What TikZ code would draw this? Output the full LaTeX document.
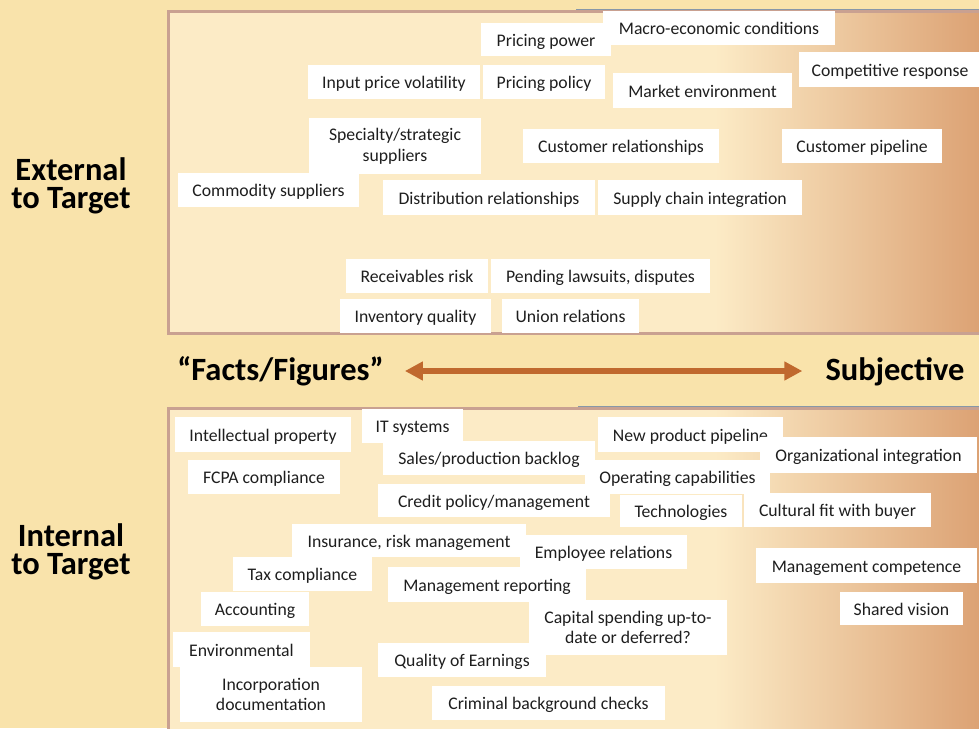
\documentclass[tikz,border=0pt]{standalone}
\usepackage{fontspec}
\setmainfont{Carlito}
\usetikzlibrary{arrows.meta}

\definecolor{pagebg}{HTML}{F9E3AB}
\definecolor{panelfill}{HTML}{FCEBC6}
\definecolor{paneldark}{HTML}{DCA274}
\definecolor{panelrim}{HTML}{C9A191}
\definecolor{rimblue}{HTML}{8797A8}
\definecolor{arrowcol}{HTML}{C0692E}
\definecolor{ink}{HTML}{1E1E1E}

\tikzset{
  tb/.style={fill=white, inner sep=0pt, text=ink,
    font=\fontsize{17.7}{20.5}\selectfont, text height=13pt, text depth=0pt},
  tbtwo/.style={fill=white, inner sep=0pt, text=ink,
    font=\fontsize{17.7}{20.8}\selectfont, align=center},
  heading/.style={font=\bfseries\fontsize{32.5}{28.5}\selectfont,
    align=center, text=black, inner sep=0pt},
  scalelabel/.style={font=\bfseries\fontsize{32.5}{34}\selectfont,
    text=black, inner sep=0pt, text height=24pt, text depth=6pt},
  scalearrow/.style={draw=arrowcol, line width=5.5pt,
    {Triangle[length=18pt,width=18pt]}-{Triangle[length=18pt,width=18pt]}},
}

% white label box given by its corners (x1,y1) (x2,y2), y measured downwards
\newcommand{\tbox}[6]{%
  \node[tb, minimum width={#4-#2}, minimum height={#5-#3}]
    (#1) at ({(#2+#4)/2},{(#3+#5)/2}) {#6};}
\newcommand{\tboxtwo}[6]{%
  \node[tbtwo, minimum width={#4-#2}, minimum height={#5-#3}]
    (#1) at ({(#2+#4)/2},{(#3+#5)/2}) {#6};}

\begin{document}
\begin{tikzpicture}[x=1pt, y=-1pt]
  \useasboundingbox (0,0) rectangle (979,728);
  \fill[pagebg] (0,0) rectangle (979,728);

  % upper panel: external factors
  \fill[panelfill] (168.5,11.5) rectangle (990,333);
  \shade[left color=panelfill, right color=paneldark] (715,11.5) rectangle (979,333);
  \draw[panelrim, line width=3pt] (990,11.5) -- (168.5,11.5) -- (168.5,333) -- (990,333);
  \draw[rimblue, line width=0.9pt] (576,9.3) -- (990,9.3);

  % lower panel: internal factors
  \fill[panelfill] (168.5,408) rectangle (990,740);
  \shade[left color=panelfill, right color=paneldark] (715,408) rectangle (979,740);
  \draw[panelrim, line width=3pt] (990,408) -- (168.5,408) -- (168.5,740);
  \draw[rimblue, line width=0.9pt] (578,406) -- (990,406);

  % row headings
  \node[heading] (ext) at (71,186) {External\\to Target};
  \node[heading] (int) at (71,552) {Internal\\to Target};

  % scale between the panels
  \node[scalelabel, anchor=base] (facts) at (280.5,380) {“Facts/Figures”};
  \node[scalelabel, anchor=base] (subj) at (895,380) {Subjective};
  \draw[scalearrow, shorten <=21pt, shorten >=23pt] (facts.east) -- (subj.west);

  % external factors
  \tbox{pricepow}{481}{23}{611}{56}{Pricing power}
  \tbox{macro}{603}{11}{835}{45}{Macro-economic conditions}
  \tbox{inputvol}{308}{65}{480}{99}{Input price volatility}
  \tbox{pricepol}{483}{65}{605}{99}{Pricing policy}
  \tbox{market}{613}{73}{792}{108}{Market environment}
  \tbox{compresp}{799}{52}{981}{87}{Competitive response}
  \tboxtwo{specialty}{309}{118}{481}{174}{Specialty/strategic\\suppliers}
  \tbox{custrel}{523}{129}{719}{163}{Customer relationships}
  \tbox{custpipe}{782}{129}{942}{163}{Customer pipeline}
  \tbox{commodity}{178}{173}{359}{207}{Commodity suppliers}
  \tbox{distrib}{383}{180}{595}{215}{Distribution relationships}
  \tbox{supply}{598}{180}{802}{215}{Supply chain integration}
  \tbox{receiv}{346}{259}{488}{293}{Receivables risk}
  \tbox{lawsuits}{491}{259}{710}{293}{Pending lawsuits, disputes}
  \tbox{inventory}{340}{299}{491}{333}{Inventory quality}
  \tbox{union}{502}{299}{639}{333}{Union relations}

  % internal factors
  \tbox{intprop}{175}{417}{351}{452}{Intellectual property}
  \tbox{itsys}{362}{409}{463}{443}{IT systems}
  \tbox{backlog}{383}{441}{595}{475}{Sales/production backlog}
  \tbox{newprod}{598}{417}{783}{452}{New product pipeline}
  \tbox{orgint}{760}{437}{977}{473}{Organizational integration}
  \tbox{fcpa}{188}{460}{340}{494}{FCPA compliance}
  \tbox{opcap}{585}{460}{770}{494}{Operating capabilities}
  \tbox{credit}{378}{484}{610}{517}{Credit policy/management}
  \tbox{tech}{620}{495}{742}{527}{Technologies}
  \tbox{cultural}{744}{493}{931}{527}{Cultural fit with buyer}
  \tbox{insur}{292}{524}{526}{557}{Insurance, risk management}
  \tbox{employee}{520}{535}{687}{569}{Employee relations}
  \tbox{tax}{233}{557}{372}{591}{Tax compliance}
  \tbox{mgmtrep}{388}{567}{586}{602}{Management reporting}
  \tbox{mgmtcomp}{756}{548}{977}{583}{Management competence}
  \tbox{accounting}{201}{592}{309}{626}{Accounting}
  \tbox{shared}{840}{592}{963}{625}{Shared vision}
  \tboxtwo{capex}{529}{600}{727}{655}{Capital spending up-to-\\date or deferred?}
  \tbox{environ}{173}{632}{310}{667}{Environmental}
  \tbox{qoe}{378}{643}{546}{677}{Quality of Earnings}
  \tboxtwo{incorp}{180}{667}{362}{722}{Incorporation\\documentation}
  \tbox{criminal}{432}{686}{665}{720}{Criminal background checks}
\end{tikzpicture}
\end{document}
